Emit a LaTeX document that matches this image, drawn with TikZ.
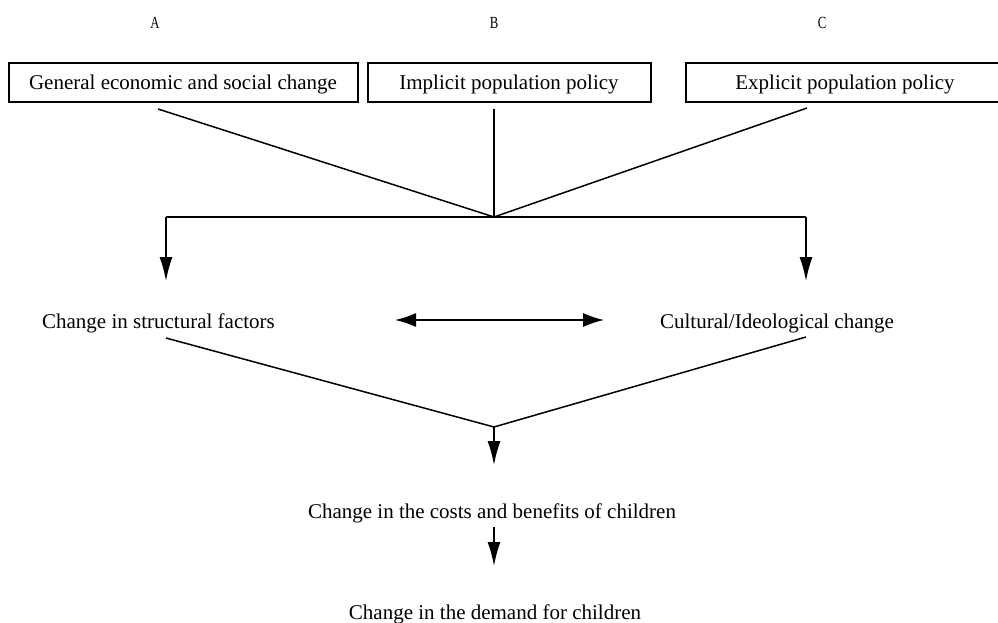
\documentclass[tikz,border=0pt]{standalone}
\usepackage{fontspec}
\usepackage{graphicx}
\setmainfont{Liberation Serif}
\usetikzlibrary{arrows.meta}
\begin{document}
\begin{tikzpicture}[x=1pt,y=-1pt,
  lbl/.style={font=\fontsize{21}{25}\selectfont, inner sep=0pt, anchor=base},
  hdr/.style={font=\fontsize{17}{19}\selectfont, inner sep=0pt, anchor=base},
  boxnode/.style={draw, line width=1.6pt, minimum height=39pt, inner sep=0pt},
  conn/.style={line width=1.5pt},
  arr/.style={line width=1.5pt, -{Latex[length=24pt,width=13pt]}},
  darr/.style={line width=1.5pt, {Latex[length=21pt,width=14pt]}-{Latex[length=21pt,width=14pt]}}
]
\useasboundingbox (0,0) rectangle (998,623);
\fill[white] (0,0) rectangle (998,623);

% header letters
\node[hdr] (hA) at (155,29) {\scalebox{0.75}[1]{A}};
\node[hdr] (hB) at (494,29) {\scalebox{0.75}[1]{B}};
\node[hdr] (hC) at (822,29) {\scalebox{0.75}[1]{C}};

% boxes
\node[boxnode, minimum width=349pt] (b1) at (183.5,82.5) {};
\node[boxnode, minimum width=283pt] (b2) at (509.5,82.5) {};
\node[boxnode, minimum width=316pt] (b3) at (844,82.5) {};
\node[lbl] (t1) at (183,89.5) {General economic and social change};
\node[lbl] (t2) at (509,89.5) {Implicit population policy};
\node[lbl] (t3) at (845,89.5) {Explicit population policy};

% convergence lines
\coordinate (s1) at (158,109);
\coordinate (s2) at (494,109);
\coordinate (s3) at (807,108);
\coordinate (j1) at (494,217);
\coordinate (hl) at (166,217);
\coordinate (hr) at (806,217);
\coordinate (dl) at (166,281);
\coordinate (dr) at (806,281);
\draw[conn] (s1) -- (j1);
\draw[conn] (s2) -- (j1);
\draw[conn] (s3) -- (j1);
\draw[conn] (hl) -- (hr);
\draw[arr] (hl) -- (dl);
\draw[arr] (hr) -- (dr);

% middle row
\node[lbl] (m1) at (158.5,328.5) {Change in structural factors};
\node[lbl] (m2) at (777,328.5) {Cultural/Ideological change};
\coordinate (da) at (395,320);
\coordinate (db) at (604,320);
\draw[darr] (da) -- (db);

% lower convergence
\coordinate (l1) at (166,338);
\coordinate (l2) at (806,337);
\coordinate (j2) at (494,427);
\coordinate (j2e) at (494,465);
\draw[conn] (l1) -- (j2);
\draw[conn] (l2) -- (j2);
\draw[arr] (j2) -- (j2e);

\node[lbl] (c1) at (492,518.5) {Change in the costs and benefits of children};
\coordinate (a1) at (494,527);
\coordinate (a2) at (494,566);
\draw[arr] (a1) -- (a2);
\node[lbl] (c2) at (495,619) {Change in the demand for children};
\end{tikzpicture}
\end{document}
